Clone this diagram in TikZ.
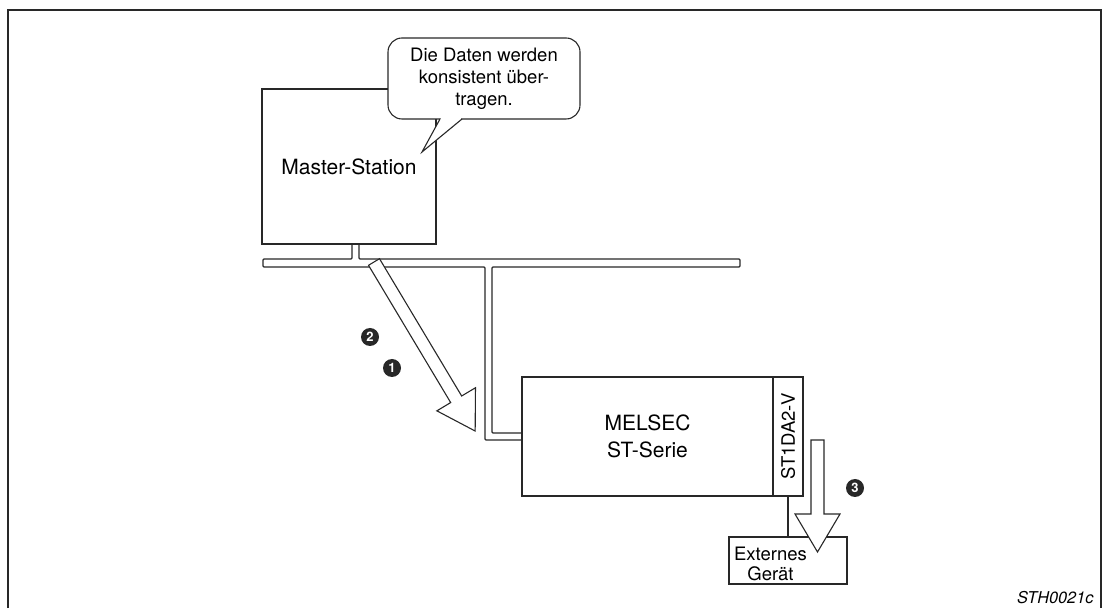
\documentclass[tikz,border=0pt]{standalone}
\usepackage{fontspec}
\setmainfont{TeX Gyre Heros}
\usetikzlibrary{calc}
\definecolor{ink}{RGB}{40,40,40}

\begin{document}
\begin{tikzpicture}[x=1pt,y=1pt,
  box/.style={draw=ink,line width=1.1pt,fill=white,inner sep=0pt,align=center},
  numdot/.style={circle,fill=ink,text=white,inner sep=0pt,minimum size=18pt,
    font=\bfseries\fontsize{13}{13}\selectfont},
  flow/.style={draw=ink,line width=1.1pt,fill=white}]
\useasboundingbox (0,0) rectangle (1103,608);
\draw[ink,line width=2pt] (7.5,0) -- (7.5,598) -- (1100.5,598) -- (1100.5,0);

\node[box,minimum width=174pt,minimum height=155pt,
  font=\fontsize{21}{25}\selectfont] (master) at (349,441.5) {Master-Station};
\node[box,rounded corners=14pt,minimum width=192pt,minimum height=81pt,
  font=\fontsize{18.5}{22}\selectfont] (note) at (484,529.5)
  {Die Daten werden\\konsistent über-\\tragen.};
% pointer of the callout
\fill[white] (441.2,487.5) rectangle (460.8,490.5);
\draw[flow] (440,489) -- (422,456) -- (462,489);

\node[box,minimum width=251pt,minimum height=119pt,
  font=\fontsize{21}{27}\selectfont] (melsec) at (647.5,171.5) {MELSEC\\ST-Serie};
\node[box,rotate=90,minimum width=119pt,minimum height=30pt,
  font=\fontsize{18.5}{22}\selectfont] (module) at (788,171.5) {ST1DA2-V};
\node[box,minimum width=118pt,minimum height=47pt] (ext) at (788,47.5) {};
\node[align=center,font=\fontsize{18.5}{20}\selectfont] (exttext) at (770.5,44) {Externes\\Gerät};
\draw[ink,line width=1.1pt] (module.west) -- (module.west |- ext.north);

% bus
\draw[ink,line width=1.1pt,rounded corners=1pt]
  ($(master.south)+(3,0)$) |- (263,349) -- (263,341) -| (485,168)
  -- ($(melsec.west)+(0,-3.5)$);
\draw[ink,line width=1.1pt,rounded corners=1pt]
  ($(melsec.west)+(0,3.5)$) -| (492,341) -- (740,341) -- (740,349)
  -| ($(master.south)+(10,0)$);

% data flow
\coordinate (flowA) at (374,346);
\coordinate (flowB) at (817.5,168);
\begin{scope}[shift={(flowA)},rotate=-59.1]
\draw[flow] (0,6.4) -- (160,6.4) -- (160,22.5) -- (197,0) -- (160,-22.5)
  -- (160,-6.4) -- (0,-6.4) -- cycle;
\end{scope}
\begin{scope}[shift={(flowB)},rotate=-90]
\draw[flow] (0,6.5) -- (74,6.5) -- (74,22.5) -- (112,0) -- (74,-22.5)
  -- (74,-6.5) -- (0,-6.5) -- cycle;
\end{scope}

\node[numdot] (n2) at (370,271) {2};
\node[numdot] (n1) at (392,240) {1};
\node[numdot] (n3) at (855,120) {3};

\node[anchor=base east,font=\itshape\fontsize{16.3}{18}\selectfont] (code) at (1097,5) {STH0021c};
\end{tikzpicture}
\end{document}
